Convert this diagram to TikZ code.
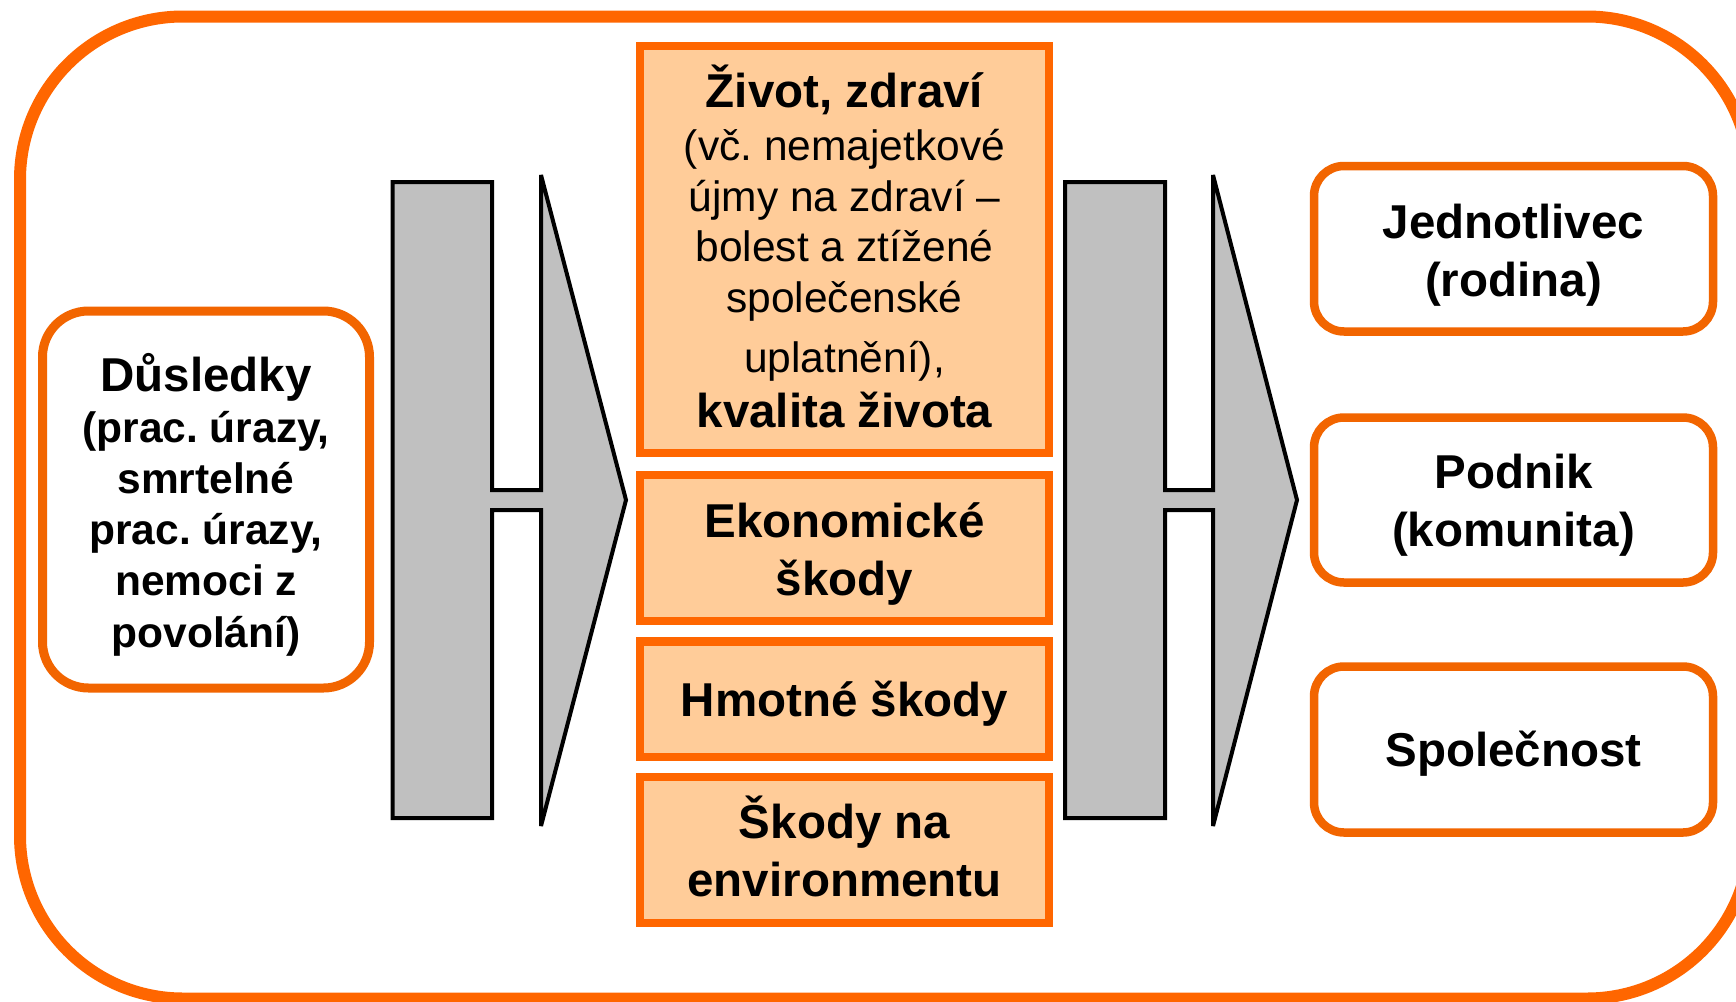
\documentclass[tikz,border=0pt]{standalone}
\usepackage{fontspec}
\setmainfont{Liberation Sans}
\frenchspacing
\definecolor{orangeA}{HTML}{FF6600}
\definecolor{orangeB}{HTML}{F26500}
\definecolor{peach}{HTML}{FFCC99}
\definecolor{greyA}{HTML}{C0C0C0}
\newcommand\fbig{\fontsize{47.5pt}{50pt}\selectfont\bfseries}
\newcommand\fsmall{\fontsize{42.5pt}{50pt}\selectfont}
\newcommand\fsmallb{\fontsize{42.5pt}{50pt}\selectfont\bfseries}
\newcommand\tlines[2]{\vtop{\frenchspacing\baselineskip=#1pt\lineskiplimit=-1000pt\lineskip=0pt\halign{\hfil##\hfil\cr#2\crcr}}}
\begin{document}
\begin{tikzpicture}[x=1pt,y=-1pt,
  outerbox/.style={draw=orangeA, line width=12pt, rounded corners=163pt},
  midbox/.style={rectangle, draw=orangeA, fill=peach, line width=8.5pt, inner sep=0pt, minimum width=409pt},
  rbox/.style={rectangle, draw=orangeB, fill=white, line width=8.5pt, rounded corners=30pt, inner sep=0pt, minimum width=399pt},
  lbox/.style={rectangle, draw=orangeB, fill=white, line width=9pt, rounded corners=46pt, inner sep=0pt},
  arrowshape/.style={draw=black, fill=greyA, line width=4pt, miter limit=5}]
\useasboundingbox (0,0) rectangle (1736,1001);
\fill[white] (0,0) rectangle (1736,1001);
\draw[outerbox] (20,16.5) rectangle (1750,998.5);

% block arrows
\draw[arrowshape] (392.5,182) -- (492,182) -- (492,490) -- (541,490) -- (541,175) -- (626,500) -- (541,826) -- (541,510) -- (492,510) -- (492,818) -- (392.5,818) -- cycle;
\draw[arrowshape] (1065,182) -- (1165,182) -- (1165,490) -- (1213,490) -- (1213,175) -- (1297,500) -- (1213,826) -- (1213,510) -- (1165,510) -- (1165,818) -- (1065,818) -- cycle;

% left box
\node[lbox, minimum width=327pt, minimum height=377pt, text height=0pt, text depth=217pt] (dusledky) at (206,499.5)
 {\tlines{51.2}{\fbig Důsledky\cr\fsmallb (prac. úrazy,\cr\fsmallb smrtelné\cr\fsmallb prac. úrazy,\cr\fsmallb nemoci z\cr\fsmallb povolání)}};

% middle boxes
\node[midbox, minimum height=407pt, text height=0pt, text depth=285pt] (zivot) at (844.5,249.5)
 {\tlines{50.5}{\fbig Život, zdraví\cr\noalign{\vskip2.5pt}\fsmall (vč. nemajetkové\cr\noalign{\vskip0.5pt}\fsmall újmy na zdraví –\cr\fsmall bolest a ztížené\cr\fsmall společenské\cr\noalign{\vskip9.5pt}\fsmall uplatnění),\cr\noalign{\vskip4.5pt}\fbig kvalita života}};
\node[midbox, minimum height=146pt, text height=0pt, text depth=21.4pt] (ekon) at (844.5,548)
 {\tlines{57.7}{\fbig Ekonomické\cr\fbig škody}};
\node[midbox, minimum height=115.5pt, text height=34.9pt, text depth=0pt] (hmot) at (844.5,699.25)
 {\tlines{57.7}{\fbig Hmotné škody}};
\node[midbox, minimum height=146pt, text height=0pt, text depth=23.4pt] (env) at (844.5,850)
 {\tlines{57.7}{\fbig Škody na\cr\fbig environmentu}};

% right boxes
\node[rbox, minimum height=165.5pt, text height=0pt, text depth=20.9pt] (jedn) at (1513.5,248.75)
 {\tlines{57.7}{\fbig Jednotlivec\cr\fbig (rodina)}};
\node[rbox, minimum height=165pt, text height=0pt, text depth=23.4pt] (podnik) at (1513.5,500)
 {\tlines{57.7}{\fbig Podnik\cr\fbig (komunita)}};
\node[rbox, minimum height=166pt, text height=34.4pt, text depth=0pt] (spol) at (1513.5,749.5)
 {\tlines{57.7}{\fbig Společnost}};
\end{tikzpicture}
\end{document}
